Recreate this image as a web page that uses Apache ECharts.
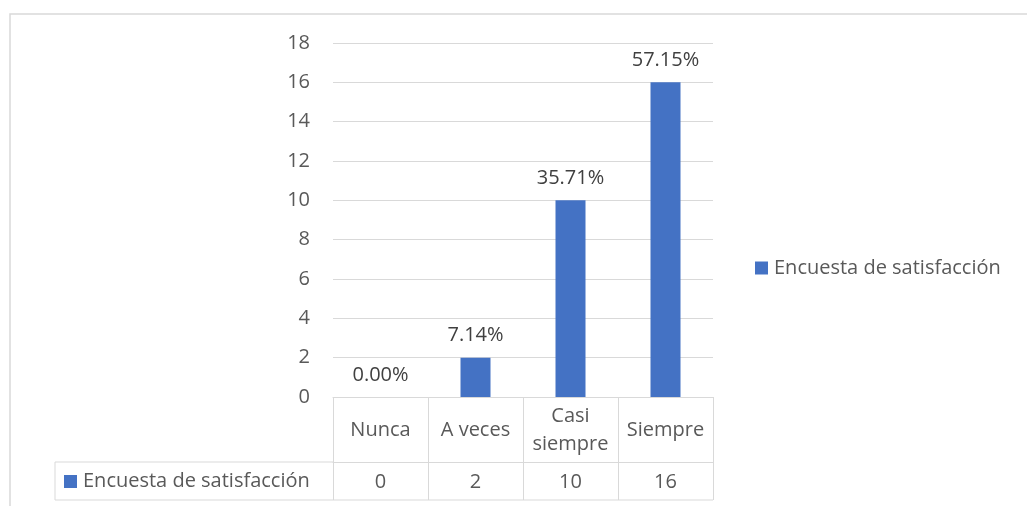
<!DOCTYPE html>
<html><head><meta charset="utf-8">
<script src="https://cdn.jsdelivr.net/npm/echarts@6/dist/echarts.min.js"></script>
<style>html,body{margin:0;padding:0;background:#fff}#c{width:1027px;height:506px}</style>
</head><body><div id="c"></div>
<script>
const categories = ['Nunca', 'A veces', 'Casi\nsiempre', 'Siempre'];
const values = [0, 2, 10, 16];
const percentLabels = ['0.00%', '7.14%', '35.71%', '57.15%'];
const seriesName = 'Encuesta de satisfacción';
const yMin = 0, yMax = 18, yStep = 2;

const FONT = 'Open Sans';
const FS = 20;
const TXT = '#595959';
const LINE = '#d9d9d9';
const BAR = '#4472C4';

const chart = echarts.init(document.getElementById('c'));
const gL = 333, gR = 713, gT = 43, gB = 397;

chart.setOption({
  animation: false,
  textStyle: { fontFamily: FONT },
  grid: { left: gL, right: 1027 - gR, top: gT, bottom: 506 - gB, containLabel: false },
  legend: {
    data: [seriesName], left: 750, top: 253, icon: 'rect', itemWidth: 13, itemHeight: 13, itemGap: 6,
    textStyle: { fontFamily: FONT, fontSize: FS, color: TXT, padding: [0, 0, 0, 1] }
  },
  xAxis: [
    {
      type: 'category', data: categories, position: 'bottom',
      axisLine: { show: true, lineStyle: { color: LINE, width: 1 } },
      axisTick: { show: true, alignWithLabel: false, length: 103, lineStyle: { color: LINE } },
      axisLabel: { fontFamily: FONT, fontSize: FS, color: TXT, margin: 33, verticalAlign: 'middle', lineHeight: 28, interval: 0 }
    },
    {
      type: 'category', data: values.map(String), position: 'bottom', offset: 65,
      axisLine: { show: true, lineStyle: { color: LINE, width: 1 } },
      axisTick: { show: false },
      axisLabel: { fontFamily: FONT, fontSize: FS, color: TXT, margin: 20, verticalAlign: 'middle', interval: 0 }
    }
  ],
  yAxis: {
    type: 'value', min: yMin, max: yMax, interval: yStep,
    axisLine: { show: false }, axisTick: { show: false },
    axisLabel: { fontFamily: FONT, fontSize: FS, color: TXT, margin: 23 },
    splitLine: { lineStyle: { color: LINE, width: 1 } }
  },
  series: [{
    name: seriesName, type: 'bar', data: values, barWidth: 30, xAxisIndex: 0,
    itemStyle: { color: BAR },
    label: {
      show: true, position: 'top', distance: 12, fontFamily: FONT, fontSize: FS, color: '#404040',
      formatter: p => percentLabels[p.dataIndex]
    }
  }]
});

chart.setOption({
  graphic: [
    { type: 'rect', shape: { x: 10, y: 14, width: 1100, height: 600 }, style: { fill: 'none', stroke: LINE, lineWidth: 1.5 }, silent: true },
    { type: 'line', shape: { x1: 55, y1: 462, x2: gL, y2: 462 }, style: { stroke: LINE, lineWidth: 1 } },
    { type: 'line', shape: { x1: 55, y1: 500, x2: gR, y2: 500 }, style: { stroke: LINE, lineWidth: 1 } },
    { type: 'line', shape: { x1: 55, y1: 462, x2: 55, y2: 500 }, style: { stroke: LINE, lineWidth: 1 } },
    { type: 'rect', shape: { x: 64, y: 475, width: 13, height: 13 }, style: { fill: BAR } },
    { type: 'text', x: 83, y: 481.5, style: { text: seriesName, fontFamily: FONT, fontSize: FS, fill: TXT, verticalAlign: 'middle' } }
  ]
});
</script></body></html>
